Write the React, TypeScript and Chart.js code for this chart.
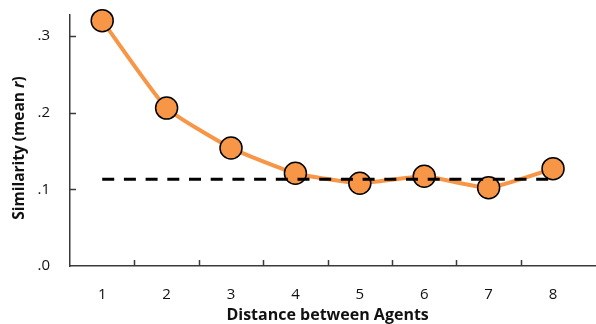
import React, { useEffect, useRef } from 'react';
import { Chart, registerables } from 'chart.js';
Chart.register(...registerables);

const distances = [1, 2, 3, 4, 5, 6, 7, 8];
const meanR = [0.32, 0.206, 0.154, 0.121, 0.108, 0.117, 0.102, 0.127];
const baselineR = 0.113;
const yTicks = [0, 0.1, 0.2, 0.3];
const yTickLabels = ['.0', '.1', '.2', '.3'];
const xTitle = 'Distance between Agents';
const yTitleParts = ['Similarity (mean ', 'r', ')'];

const FONT = '"Open Sans", Lato, sans-serif';
const AXIS_COLOR = '#3a3a3a';
const ORANGE = '#F79646';

const zeroPad = (s: any) => {
  s.paddingTop = 0;
  s.paddingBottom = 0;
  s.paddingLeft = 0;
  s.paddingRight = 0;
};

export default function App() {
  const ref = useRef<HTMLCanvasElement>(null);
  useEffect(() => {
    if (!ref.current) return;
    const decor = {
      id: 'decor',
      afterDraw(chart: any) {
        const { ctx, chartArea } = chart;
        const xs = chart.scales.x;
        const ys = chart.scales.y;
        ctx.save();
        ctx.strokeStyle = AXIS_COLOR;
        ctx.lineWidth = 1.5;
        for (let i = 0; i < distances.length - 1; i++) {
          const px = Math.round(xs.getPixelForValue((distances[i] + distances[i + 1]) / 2)) + 0.5;
          ctx.beginPath();
          ctx.moveTo(px, chartArea.bottom);
          ctx.lineTo(px, chartArea.bottom - 6);
          ctx.stroke();
        }
        yTicks.forEach((v) => {
          if (v === 0) return;
          const py = Math.round(ys.getPixelForValue(v)) + 0.5;
          ctx.beginPath();
          ctx.moveTo(chartArea.left, py);
          ctx.lineTo(chartArea.left + 6, py);
          ctx.stroke();
        });
        ctx.fillStyle = '#111';
        ctx.font = `bold 16px ${FONT}`;
        ctx.textAlign = 'center';
        ctx.textBaseline = 'alphabetic';
        const xCenter = (xs.getPixelForValue(0.5) + xs.getPixelForValue(8.5)) / 2;
        ctx.fillText(xTitle, xCenter, 320);
        const fonts = [`bold 15.5px ${FONT}`, `italic bold 15.5px ${FONT}`, `bold 15.5px ${FONT}`];
        const widths = yTitleParts.map((t, i) => {
          ctx.font = fonts[i];
          return ctx.measureText(t).width;
        });
        const total = widths.reduce((a, b) => a + b, 0);
        ctx.translate(24, 148);
        ctx.rotate(-Math.PI / 2);
        ctx.textAlign = 'left';
        let x = -total / 2;
        yTitleParts.forEach((t, i) => {
          ctx.font = fonts[i];
          ctx.fillText(t, x, 0);
          x += widths[i];
        });
        ctx.restore();
      },
    };
    const chart = new Chart(ref.current, {
      type: 'line',
      data: {
        datasets: [
          {
            label: 'mean r',
            data: distances.map((d, i) => ({ x: d, y: meanR[i] })),
            borderColor: ORANGE,
            borderWidth: 4,
            backgroundColor: ORANGE,
            pointRadius: 11,
            pointBackgroundColor: ORANGE,
            pointBorderColor: '#000',
            pointBorderWidth: 1.5,
            tension: 0.15,
            clip: false,
            order: 2,
          },
          {
            label: 'baseline',
            data: [
              { x: distances[0], y: baselineR },
              { x: distances[distances.length - 1], y: baselineR },
            ],
            borderColor: '#000',
            borderWidth: 3,
            borderDash: [12, 9.7],
            pointRadius: 0,
            clip: false,
            order: 1,
          },
        ],
      },
      options: {
        animation: false,
        responsive: false,
        layout: { autoPadding: false, padding: { top: 15, left: 0, right: 0, bottom: 0 } },
        plugins: { legend: { display: false }, tooltip: { enabled: false } },
        scales: {
          x: {
            type: 'linear',
            min: 0.5,
            max: 8.667,
            afterBuildTicks: (s: any) => {
              s.ticks = distances.map((v) => ({ value: v }));
            },
            afterFit: (s: any) => {
              s.height = 58;
              zeroPad(s);
            },
            grid: { display: false, drawTicks: false },
            border: { display: true, color: AXIS_COLOR, width: 1.5 },
            ticks: {
              autoSkip: false,
              maxRotation: 0,
              padding: 20,
              color: '#111',
              font: { family: FONT, size: 15 },
              callback: (v: any) => String(v),
            },
          },
          y: {
            type: 'linear',
            min: 0,
            max: 0.3274,
            afterBuildTicks: (s: any) => {
              s.ticks = yTicks.map((v) => ({ value: v }));
            },
            afterFit: (s: any) => {
              s.width = 70;
              zeroPad(s);
            },
            grid: { display: false, drawTicks: false },
            border: { display: true, color: AXIS_COLOR, width: 1.5 },
            ticks: {
              padding: 20,
              color: '#111',
              font: { family: FONT, size: 15 },
              callback: (v: any) => {
                const i = yTicks.findIndex((t) => Math.abs(t - v) < 1e-9);
                return i >= 0 ? yTickLabels[i] : '';
              },
            },
          },
        },
      },
      plugins: [decor],
    });
    return () => chart.destroy();
  }, []);
  return (
    <div style={{ position: 'absolute', left: 0, top: 0, width: 596, height: 324, background: '#fff' }}>
      <canvas ref={ref} width={596} height={324} />
    </div>
  );
}
